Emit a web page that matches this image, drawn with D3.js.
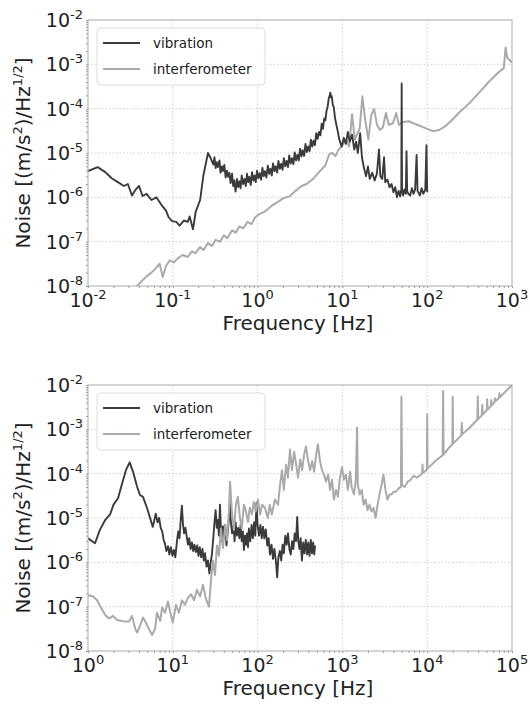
<!DOCTYPE html>
<html>
<head>
<meta charset="utf-8">
<script src="https://cdn.jsdelivr.net/npm/d3@7"></script>
<style>
  body { margin: 0; background: #fff; }
  svg { display: block; font-family: "DejaVu Sans", sans-serif; }
</style>
</head>
<body>
<div id="main"></div>
<script>
const ctx = { w: 530, h: 708 };

// top panel: low-frequency range
const topFreqTicks = [1e-2, 1e-1, 1e0, 1e1, 1e2, 1e3];
const noiseTicks = [1e-8, 1e-7, 1e-6, 1e-5, 1e-4, 1e-3, 1e-2];

const vibrationTop = [
    [0.01,3.9e-6],[0.013,4.8e-6],[0.016,3.7e-6],[0.019,2.7e-6],[0.0225,2.2e-6],[0.0265,1.8e-6],
    [0.0295,2.0e-6],[0.033,1.1e-6],[0.036,1.45e-6],[0.04,1.8e-6],[0.044,1.07e-6],[0.049,1.2e-6],
    [0.056,8.7e-7],[0.064,1.0e-6],[0.074,6.6e-7],[0.083,5.1e-7],[0.089,3.6e-7],[0.098,2.9e-7],
    [0.11,2.8e-7],[0.12,2.3e-7],[0.135,3.0e-7],[0.15,2.8e-7],[0.158,3.7e-7],[0.173,1.9e-7],
    [0.186,4.7e-7],[0.21,8.7e-7],[0.23,3.2e-6],[0.26,1.0e-5],[0.28,7.6e-6],
    [0.30,5.5e-6],[0.31,8.0e-6],[0.32,4.6e-6],[0.33,6.2e-6],[0.34,4.8e-6],[0.355,6.8e-6],
    [0.365,3.6e-6],[0.38,5.0e-6],[0.39,3.9e-6],[0.405,5.4e-6],[0.42,2.8e-6],[0.435,4.0e-6],
    [0.45,2.9e-6],[0.465,3.6e-6],[0.48,2.1e-6],[0.50,3.4e-6],[0.515,1.8e-6],[0.53,2.4e-6],
    [0.55,1.35e-6],[0.57,2.6e-6],[0.59,1.7e-6],[0.61,2.3e-6],[0.63,1.6e-6],[0.65,3.1e-6],
    [0.675,2.0e-6],[0.70,2.6e-6],[0.725,1.8e-6],[0.75,3.4e-6],[0.775,2.2e-6],[0.80,2.9e-6],
    [0.83,1.9e-6],[0.86,3.7e-6],[0.89,2.4e-6],[0.92,3.1e-6],[0.95,2.2e-6],[0.985,4.0e-6],
    [1.02,2.7e-6],[1.06,3.5e-6],[1.10,2.5e-6],[1.14,4.6e-6],[1.18,3.0e-6],[1.22,3.9e-6],
    [1.27,2.8e-6],[1.32,5.2e-6],[1.37,3.4e-6],[1.42,4.4e-6],[1.47,3.1e-6],[1.52,5.8e-6],
    [1.58,3.9e-6],[1.64,5.0e-6],[1.70,3.6e-6],[1.76,6.6e-6],[1.83,4.4e-6],[1.90,5.7e-6],
    [1.97,4.2e-6],[2.04,7.6e-6],[2.12,5.0e-6],[2.20,6.6e-6],[2.28,4.8e-6],[2.36,8.8e-6],
    [2.45,5.8e-6],[2.54,7.6e-6],[2.64,5.6e-6],[2.74,1.03e-5],[2.84,6.8e-6],[2.95,9.2e-6],
    [3.06,6.8e-6],[3.17,1.25e-5],[3.29,8.4e-6],[3.41,1.15e-5],[3.54,8.6e-6],[3.67,1.6e-5],
    [3.81,1.05e-5],[3.95,1.4e-5],[4.10,1.1e-5],[4.25,2.0e-5],[4.41,1.4e-5],[4.57,1.9e-5],
    [4.74,1.5e-5],[4.92,2.8e-5],[5.10,2.1e-5],[5.30,3.0e-5],[5.50,2.5e-5],[5.70,4.6e-5],
    [5.90,3.5e-5],[6.1,6.0e-5],[6.3,5.5e-5],[6.5,9.0e-5],[6.7,1.1e-4],[6.9,1.7e-4],
    [7.1,2.0e-4],[7.2,2.3e-4],[7.35,1.8e-4],[7.5,1.9e-4],[7.7,1.2e-4],[7.9,1.1e-4],
    [8.2,6.0e-5],[8.7,3.5e-5],[9.2,2.0e-5],[9.8,1.4e-5],[10.4,2.2e-5],[11,1.6e-5],
    [11.6,3.0e-5],[12.2,1.8e-5],[13,2.6e-5],[13.8,1.2e-5],[14.5,1.8e-5],[15.2,1.0e-5],
    [16.2,2.8e-5],[17,8e-6],[18,4.5e-6],[19,3.0e-6],[20,5.0e-6],[21,2.6e-6],[22.5,3.6e-6],
    [24,2.4e-6],[25.5,3.4e-6],[27,1.2e-5],[28,3.0e-6],[29.5,2.6e-6],[31,8e-6],[32,2.2e-6],
    [34,2.5e-6],[36,1.7e-6],[38,2.0e-6],[40,1.3e-6],[42,1.7e-6],[44,1.0e-6],[46,1.4e-6],
    [48,1.05e-6],[49.5,1.5e-6],[50,3.7e-4],[50.5,1.5e-6],[52,1.1e-6],[54,1.5e-6],[56,1.2e-6],
    [57,1.1e-5],[58,1.4e-6],[60,1.2e-6],[63,1.1e-6],[66,1.6e-6],[69,1.2e-6],[72,1.5e-6],
    [75,9e-6],[77,1.4e-6],[82,1.1e-6],[86,1.6e-6],[90,1.2e-6],[95,1.5e-6],[98,1.5e-5],[100,1.3e-6]
];

const interferometerTop = [
    [0.036,9e-9],[0.043,1.3e-8],[0.049,1.65e-8],[0.056,2.0e-8],[0.063,2.5e-8],[0.07,3.2e-8],
    [0.076,1.6e-8],[0.083,2.8e-8],[0.092,3.8e-8],[0.103,3.4e-8],[0.114,4.2e-8],[0.131,5.0e-8],
    [0.15,4.5e-8],[0.167,6.0e-8],[0.186,5.5e-8],[0.21,7.6e-8],[0.23,6.5e-8],[0.26,9.3e-8],
    [0.29,8e-8],[0.32,1.1e-7],[0.36,1.0e-7],[0.4,1.4e-7],[0.44,1.2e-7],[0.5,1.8e-7],
    [0.55,1.6e-7],[0.61,2.2e-7],[0.68,2.0e-7],[0.76,2.8e-7],[0.85,2.5e-7],[0.94,3.6e-7],
    [1.05,4.2e-7],[1.24,4.9e-7],[1.46,6.4e-7],[1.72,7.8e-7],[2.0,9.5e-7],[2.37,1.05e-6],
    [2.8,1.4e-6],[3.3,1.8e-6],[3.8,2.0e-6],[4.6,2.7e-6],[5.3,3.7e-6],[6.3,5.3e-6],
    [7.0,9.4e-6],[7.6,1.0e-5],[8.3,8.5e-6],[8.9,1.15e-5],[10,1.5e-5],[11,2.0e-5],
    [12,1.4e-5],[13,7.5e-5],[14,2.0e-5],[16,3.6e-5],[17.2,1.9e-4],[18.6,5.5e-5],
    [20.2,2.0e-5],[21.9,7.2e-5],[23.7,9.8e-5],[25.6,4.3e-5],[27.8,3.3e-5],[30,3.8e-5],
    [32.6,8e-5],[35.3,4.3e-5],[39.5,4.7e-5],[43,8e-5],[46.5,4.3e-5],[52,5e-5],[61,5.2e-5],
    [72,4.5e-5],[85,4.0e-5],[100,3.5e-5],[118,3.1e-5],[138,3.3e-5],[163,4.0e-5],[190,5.2e-5],
    [235,8e-5],[310,1.3e-4],[410,2.3e-4],[530,4e-4],[700,6.7e-4],[800,8.2e-4],[840,2.4e-3],
    [880,1.4e-3],[1000,1.1e-3]
];

// bottom panel: high-frequency range
const bottomFreqTicks = [1e0, 1e1, 1e2, 1e3, 1e4, 1e5];

const vibrationBottom = [
    [1.0,3.5e-6],[1.21,2.7e-6],[1.38,5.4e-6],[1.59,8.9e-6],[1.82,1.2e-5],[2.0,2.0e-5],
    [2.26,2.8e-5],[2.52,5.9e-5],[2.8,1.2e-4],[3.1,1.8e-4],[3.4,1.1e-4],[3.8,5e-5],
    [4.1,3.3e-5],[4.45,3.0e-5],[4.95,1.7e-5],[5.4,1.0e-5],[5.8,6.3e-6],[6.3,1.25e-5],
    [6.6,8e-6],[6.9,1.0e-5],[7.2,6e-6],[7.5,5e-6],[7.8,3.2e-6],[8.1,2.6e-6],[8.4,1.8e-6],
    [8.8,2.3e-6],[9.1,1.5e-6],[9.5,2.2e-6],[9.9,1.4e-6],[10.3,1.9e-6],[10.7,1.3e-6],
    [11.2,3.0e-6],[11.6,5e-6],[12.0,3.5e-6],[12.4,9e-6],[12.8,1.9e-5],[13.2,7e-6],
    [13.6,4.5e-6],[14.1,6e-6],[14.6,3.8e-6],[15.1,2.5e-6],[15.6,3.5e-6],[16.2,2.0e-6],
    [16.8,2.8e-6],[17.4,1.8e-6],[18.0,2.5e-6],[18.7,1.7e-6],[19.4,2.4e-6],[20.1,1.4e-6],
    [20.8,2.2e-6],[21.6,1.3e-6],[22.4,2.0e-6],[23.2,1.1e-6],[24,1.6e-6],[25,8e-7],
    [26,1.1e-6],[27,5.6e-7],[28,1.0e-6],[29,1.6e-6],[30,3.5e-6],[31,8e-6],[32,1.5e-5],
    [33,6e-6],[34,9e-6],[35,4e-6],[36,2.0e-5],[37,5e-6],[38,3.0e-6],[39,6.5e-6],[40,3.5e-6],
    [41.5,7e-6],[43,2.4e-6],[44.5,5e-6],[46,1.0e-5],[47,2.3e-5],[48.5,8e-6],[50,4.5e-6],
    [52,7e-6],[53.5,3.0e-6],[55,8e-6],[57,4e-6],[59,6e-6],[61,3.5e-6],[63,7e-6],[65,3.0e-6],
    [67,5e-6],[69,1.9e-6],[71,4e-6],[73,2.5e-6],[75,4.5e-6],[77,2.2e-6],[79,5.8e-6],
    [82,3.0e-6],[85,7e-6],[88,3.5e-6],[91,8e-6],[94,4e-6],[97,2.2e-5],[100,7e-6],
    [104,4e-6],[108,7e-6],[112,3.5e-6],[116,6.3e-6],[120,3.5e-6],[125,5.5e-6],[130,2.4e-6],
    [135,3.5e-6],[140,1.5e-6],[146,2.5e-6],[152,1.2e-6],[158,2.0e-6],[165,1.0e-6],
    [170,4.6e-7],[176,1.3e-6],[183,1.8e-6],[190,1.1e-6],[197,2.5e-6],[204,1.6e-6],
    [212,4.0e-6],[220,2.5e-6],[228,4.5e-6],[237,2.0e-6],[246,1.5e-6],[255,3.0e-6],
    [264,2.0e-6],[274,4.5e-6],[284,3.0e-6],[293,1.05e-5],[302,3.0e-6],[312,2.0e-6],
    [322,3.5e-6],[333,1.1e-6],[345,2.8e-6],[357,1.6e-6],[370,3.2e-6],[383,1.5e-6],
    [396,2.8e-6],[410,1.4e-6],[424,3.2e-6],[438,1.6e-6],[452,2.8e-6],[466,1.5e-6],[476,2.4e-6]
];

const interferometerBottom = [
    [1.0,1.8e-7],[1.15,1.7e-7],[1.28,1.4e-7],[1.42,9.6e-8],[1.59,6.6e-8],[1.77,5.4e-8],
    [1.97,6.2e-8],[2.2,5.0e-8],[2.45,4.8e-8],[2.73,4.6e-8],[3.05,4.6e-8],[3.3,6.2e-8],
    [3.6,3.2e-8],[3.8,2.6e-8],[4.1,3.7e-8],[4.45,5.7e-8],[4.8,4.4e-8],[5.2,3.2e-8],
    [5.7,2.3e-8],[6.2,3.2e-8],[6.5,7.3e-8],[7.1,4.8e-8],[7.5,9.6e-8],[8.1,7.3e-8],
    [8.8,1.3e-7],[9.3,7.7e-8],[10.0,4.4e-8],[10.9,1.1e-7],[11.8,7.3e-8],[12.8,1.4e-7],
    [13.9,1.1e-7],[15.1,1.6e-7],[16.4,1.9e-7],[17.8,1.4e-7],[19.3,2.4e-7],[21,1.7e-7],
    [22.7,3.1e-7],[24.6,1.5e-7],[26.7,1.0e-7],[28.2,4.0e-7],[29.7,1.1e-6],[31.4,5.2e-7],
    [33.2,2.4e-6],[35,1.4e-6],[37,5.8e-6],[39,2.1e-6],[41.5,6.9e-6],[43.5,3.2e-6],
    [46,1.5e-5],[47.3,6.6e-5],[50,1.2e-5],[52.5,5.4e-6],[55.5,2.0e-5],[58.5,3.0e-5],
    [62,1.0e-5],[65,5.8e-6],[69,2.0e-5],[73,1.4e-5],[77,8.1e-6],[81,1.7e-5],[86,1.2e-5],
    [90,2.3e-5],[95,1.4e-5],[101,2.6e-5],[107,1.2e-5],[113,2.0e-5],[122,1.7e-5],[132,1.0e-5],
    [139,2.0e-5],[147,1.2e-5],[160,2.6e-5],[174,2.0e-5],[184,5.6e-5],[194,1.2e-4],[204,4.3e-5],
    [217,1.6e-4],[228,8.1e-5],[241,3.5e-4],[254,1.2e-4],[270,3.1e-4],[285,1.6e-4],[300,8.1e-5],
    [318,2.1e-4],[335,1.2e-4],[354,2.7e-4],[372,4.1e-4],[395,1.9e-4],[416,1.2e-4],[440,1.9e-4],
    [464,1.1e-4],[490,2.7e-4],[515,4.6e-4],[545,1.9e-4],[575,1.2e-4],[607,9.5e-5],[640,6.6e-5],
    [680,9.5e-5],[715,4.3e-5],[755,7.3e-5],[795,2.6e-5],[840,4.3e-5],[885,3.0e-5],[935,8.1e-5],
    [990,1.4e-4],[1040,7.3e-5],[1100,9.5e-5],[1160,4.3e-5],[1230,1.1e-4],[1290,4.8e-5],
    [1370,3.4e-5],[1440,7.3e-5],[1490,1.1e-3],[1520,5.6e-5],[1600,3.4e-5],[1690,4.3e-5],
    [1780,2.0e-5],[1880,2.6e-5],[1980,1.5e-5],[2090,2.0e-5],[2200,1.4e-5],[2330,1.7e-5],
    [2460,1.0e-5],[2600,2.0e-5],[2740,3.4e-5],[2890,5.6e-5],[3050,9.5e-5],[3220,4.3e-5],
    [3400,2.6e-5],[3600,3.4e-5],[3800,3.4e-5],[4000,3.9e-5],[4230,3.9e-5],[4460,4.3e-5],
    [4700,4.8e-5],[4900,5.0e-5],[4970,5.4e-3],[5050,5.5e-5],[5400,5e-5],[5900,6.6e-5],
    [6400,7.3e-5],[6950,9e-5],[7500,8.1e-5],[8100,9e-5],[8700,1.0e-4],[8800,1.6e-4],
    [8900,1.05e-4],[9800,1.2e-4],[9900,1.25e-4],[10000,2.2e-3],[10100,1.3e-4],[12400,1.9e-4],
    [15200,2.6e-4],[15400,7.3e-3],[15600,2.7e-4],[18200,3.9e-4],[19800,4.6e-4],[20000,5.4e-3],
    [20200,4.8e-4],[25300,7.3e-4],[25600,1.4e-3],[25900,7.7e-4],[31800,1.1e-3],[39000,1.65e-3],
    [39500,5.6e-3],[40000,1.7e-3],[44000,2.05e-3],[44600,3.6e-3],[45200,2.15e-3],[50400,2.7e-3],
    [51000,4.8e-3],[51600,2.8e-3],[56400,3.35e-3],[57000,4.6e-3],[57600,3.45e-3],[62300,4.1e-3],
    [63000,5.0e-3],[63700,4.3e-3],[70200,5.1e-3],[71000,6.5e-3],[71800,5.3e-3],[80000,6.5e-3],
    [90000,8.1e-3],[100000,1e-2]
];

const seriesNames = ["vibration", "interferometer"];
const seriesColors = ["#3b3b3b", "#aaaaaa"];

function powLabel(sel, v) {
    let e = Math.round(Math.log10(v));
    sel.text(null);
    sel.append("tspan").text("10");
    sel.append("tspan").attr("dy", -8).attr("font-size", 13).text(e);
}

function drawPanel(svg, cfg) {
    let x = d3.scaleLog().domain(cfg.xDomain).range([88, 512]);
    let y = d3.scaleLog().domain([1e-8, 1e-2]).range([cfg.top + 266, cfg.top]);
    let g = svg.append("g");
    let clipId = "clip" + cfg.top;

    g.append("clipPath").attr("id", clipId)
        .append("rect").attr("x", 88).attr("y", cfg.top).attr("width", 424).attr("height", 266);

    // grid
    g.append("g").selectAll("line").data(cfg.xTicks.slice(1, -1)).enter().append("line")
        .attr("x1", d => x(d)).attr("x2", d => x(d))
        .attr("y1", cfg.top).attr("y2", cfg.top + 266)
        .attr("stroke", "#cfcfcf").attr("stroke-dasharray", "1.5,2");
    g.append("g").selectAll("line").data(noiseTicks.slice(1, -1)).enter().append("line")
        .attr("y1", d => y(d)).attr("y2", d => y(d))
        .attr("x1", 88).attr("x2", 512)
        .attr("stroke", "#cfcfcf").attr("stroke-dasharray", "1.5,2");

    // axes (minor ticks only, labels drawn below)
    let xAxis = g.append("g").attr("transform", "translate(0," + (cfg.top + 266) + ")")
        .call(d3.axisBottom(x).tickValues(x.ticks()).tickSize(2).tickFormat(""));
    let yAxis = g.append("g").attr("transform", "translate(88,0)")
        .call(d3.axisLeft(y).tickValues(y.ticks()).tickSize(2).tickFormat(""));
    [xAxis, yAxis].forEach(a => {
        a.select(".domain").remove();
        a.selectAll("line").attr("stroke", "#999");
    });

    g.append("g").selectAll("text").data(cfg.xTicks).enter().append("text")
        .attr("x", d => x(d)).attr("y", cfg.top + 266 + 21)
        .attr("text-anchor", "middle").attr("font-size", 19).attr("fill", "#222")
        .each(function(d) { powLabel(d3.select(this), d); });
    g.append("g").selectAll("text").data(noiseTicks).enter().append("text")
        .attr("x", 83).attr("y", d => y(d) + 7)
        .attr("text-anchor", "end").attr("font-size", 19).attr("fill", "#222")
        .each(function(d) { powLabel(d3.select(this), d); });

    // lines
    let line = d3.line().x(d => x(d[0])).y(d => y(d[1]));
    let lines = g.append("g").attr("clip-path", "url(#" + clipId + ")");
    cfg.order.forEach(i => {
        lines.append("path").datum(cfg.series[i])
            .attr("fill", "none")
            .attr("stroke", seriesColors[i])
            .attr("stroke-width", i == 0 ? 1.9 : 2)
            .attr("stroke-linejoin", "round")
            .attr("d", line);
    });

    // frame
    g.append("rect").attr("x", 88).attr("y", cfg.top).attr("width", 424).attr("height", 266)
        .attr("fill", "none").attr("stroke", "#aaa").attr("stroke-width", 1);

    // legend
    let lg = g.append("g").attr("transform", "translate(97," + (cfg.top + 8) + ")");
    lg.append("rect").attr("width", 168).attr("height", 57).attr("rx", 4)
        .attr("fill", "#fff").attr("fill-opacity", 0.85).attr("stroke", "#ddd");
    seriesNames.forEach((n, i) => {
        lg.append("line").attr("x1", 6).attr("x2", 43)
            .attr("y1", 15 + i * 26).attr("y2", 15 + i * 26)
            .attr("stroke", seriesColors[i]).attr("stroke-width", 2);
        lg.append("text").attr("x", 56).attr("y", 20 + i * 26)
            .attr("font-size", 13.5).attr("fill", "#222").text(n);
    });

    // axis labels
    g.append("text").attr("x", 298).attr("y", cfg.top + 266 + 44)
        .attr("text-anchor", "middle").attr("font-size", 20).attr("fill", "#222")
        .text("Frequency [Hz]");
    let yl = g.append("text")
        .attr("transform", "translate(30," + (cfg.top + 133) + ") rotate(-90)")
        .attr("text-anchor", "middle").attr("font-size", 20).attr("fill", "#222");
    yl.append("tspan").text("Noise [(m/s");
    yl.append("tspan").attr("dy", -8).attr("font-size", 13).text("2");
    yl.append("tspan").attr("dy", 8).text(")/Hz");
    yl.append("tspan").attr("dy", -8).attr("font-size", 13).text("1/2");
    yl.append("tspan").attr("dy", 8).text("]");
}

function createViz() {
    let svg = d3.select("#main").append("svg")
        .attr("width", ctx.w).attr("height", ctx.h);
    drawPanel(svg, {
        top: 20, xDomain: [1e-2, 1e3], xTicks: topFreqTicks,
        series: [vibrationTop, interferometerTop], order: [1, 0]
    });
    drawPanel(svg, {
        top: 385, xDomain: [1e0, 1e5], xTicks: bottomFreqTicks,
        series: [vibrationBottom, interferometerBottom], order: [0, 1]
    });
}

createViz();
</script>
</body>
</html>
